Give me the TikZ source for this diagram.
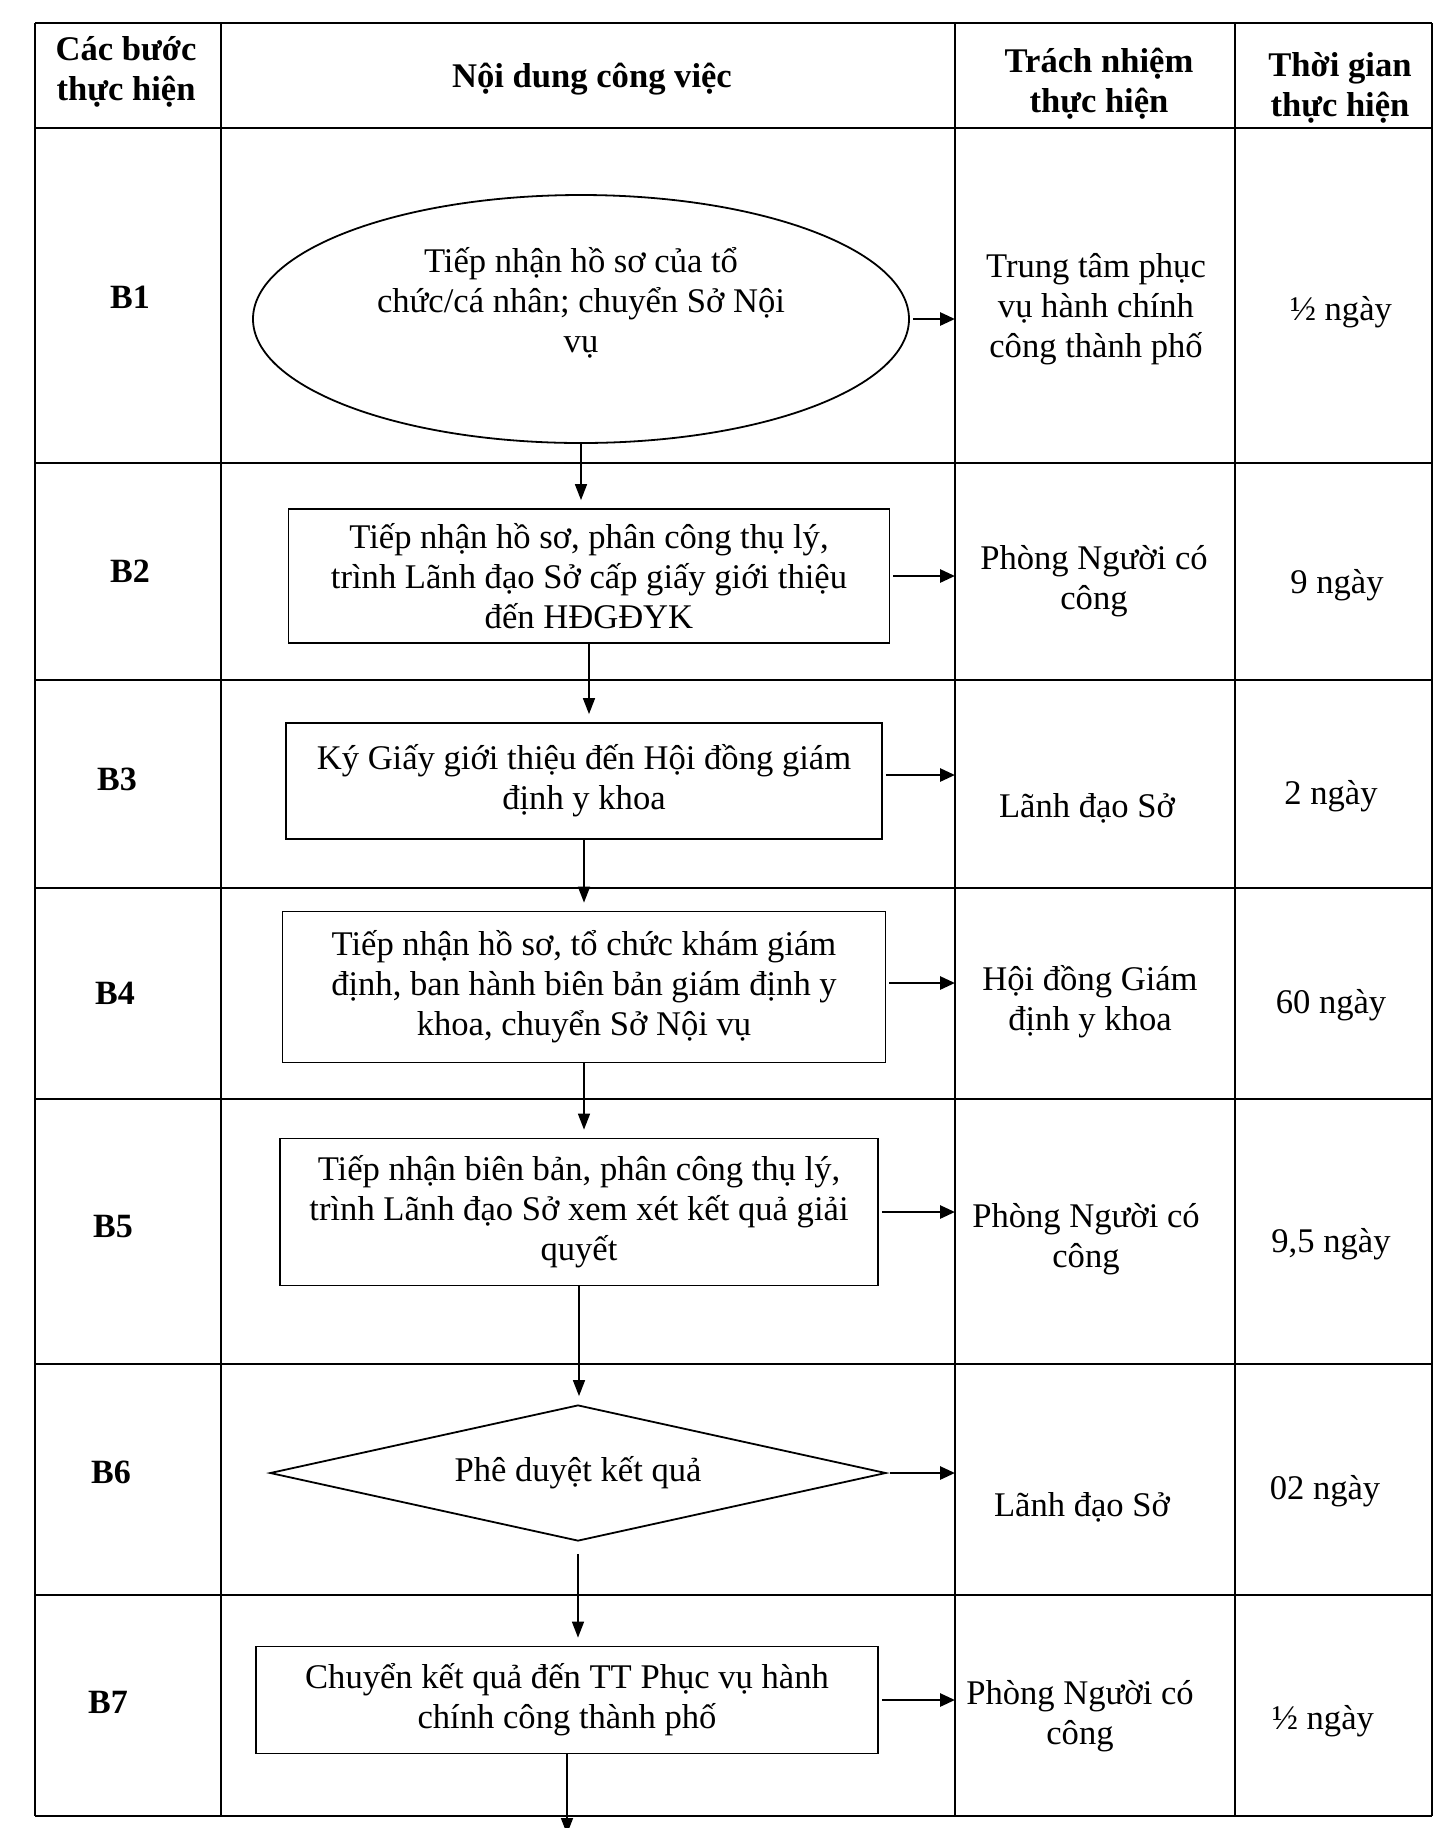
\documentclass[tikz,border=0pt]{standalone}
\usepackage{fontspec}
\setmainfont{Liberation Serif}
\usetikzlibrary{shapes.geometric,arrows.meta}
\begin{document}
\begin{tikzpicture}[x=0.5pt,y=-0.5pt,
  gridline/.style={line width=1.3pt},
  proc/.style={draw, line width=0.9pt, inner sep=0pt, align=center, font=\fontsize{17.3}{20}\selectfont},
  txt/.style={align=center, font=\fontsize{17.3}{20}\selectfont},
  hdr/.style={align=center, font=\bfseries\fontsize{17.3}{20}\selectfont},
  stepl/.style={font=\bfseries\fontsize{17}{19}\selectfont},
  downarr/.style={-{Triangle[length=8pt,width=6pt]}, line width=0.8pt, shorten >=4pt},
  sidearr/.style={-{Triangle[length=7.5pt,width=6.5pt]}, line width=1.4pt, shorten <=1.5pt}
]
\useasboundingbox (0,0) rectangle (1442,1828);
\fill[white] (0,0) rectangle (1442,1828);

% table grid
\foreach \yy in {23,128,463,680,888,1099,1364,1595,1816}
  \draw[gridline] (35,\yy) -- (1432,\yy);
\foreach \xx in {35,221,955,1235,1432}
  \draw[gridline] (\xx,23) -- (\xx,1816);
\coordinate (colx) at (955,0);

% header
\node[hdr] (h1) at (126,72) {Các bước\\thực hiện};
\node[hdr] (h2) at (592,79) {Nội dung công việc};
\node[hdr] (h3) at (1099,84) {Trách nhiệm\\thực hiện};
\node[hdr] (h4) at (1340,88) {Thời gian\\thực hiện};

% step labels
\node[stepl] (s1) at (130,297) {B1};
\node[stepl] (s2) at (130,571) {B2};
\node[stepl] (s3) at (117,779) {B3};
\node[stepl] (s4) at (115,993) {B4};
\node[stepl] (s5) at (113,1227) {B5};
\node[stepl] (s6) at (111,1472) {B6};
\node[stepl] (s7) at (108,1702) {B7};

% flow shapes
\node[proc, ellipse, minimum width=328pt, minimum height=124pt] (b1) at (581,319) {};
\node[txt] (b1t) at (581,303)
  {Tiếp nhận hồ sơ của tổ\\chức/cá nhân; chuyển Sở Nội\\vụ};
\node[proc, rectangle, minimum width=300.5pt, minimum height=67pt] (b2) at (589,576)
  {Tiếp nhận hồ sơ, phân công thụ lý,\\trình Lãnh đạo Sở cấp giấy giới thiệu\\đến HĐGĐYK};
\node[proc, rectangle, minimum width=298pt, minimum height=58pt] (b3) at (584,781)
  {Ký Giấy giới thiệu đến Hội đồng giám\\định y khoa};
\node[proc, rectangle, minimum width=301.5pt, minimum height=75.5pt] (b4) at (584,987)
  {Tiếp nhận hồ sơ, tổ chức khám giám\\định, ban hành biên bản giám định y\\khoa, chuyển Sở Nội vụ};
\node[proc, rectangle, minimum width=299pt, minimum height=73.5pt] (b5) at (579,1212)
  {Tiếp nhận biên bản, phân công thụ lý,\\trình Lãnh đạo Sở xem xét kết quả giải\\quyết};
\node[proc, diamond, shape aspect=4.5, minimum width=308pt, minimum height=68pt] (b6) at (578,1473)
  {Phê duyệt kết quả};
\node[proc, rectangle, minimum width=311pt, minimum height=53.5pt] (b7) at (567,1700)
  {Chuyển kết quả đến TT Phục vụ hành\\chính công thành phố};
\coordinate (bend) at (563,1834);

% responsibility
\node[txt] (r1) at (1096,309) {Trung tâm phục\\vụ hành chính\\công thành phố};
\node[txt] (r2) at (1094,581) {Phòng Người có\\công};
\node[txt] (r3) at (1087,808) {Lãnh đạo Sở};
\node[txt] (r4) at (1090,1002) {Hội đồng Giám\\định y khoa};
\node[txt] (r5) at (1086,1239) {Phòng Người có\\công};
\node[txt] (r6) at (1082,1507) {Lãnh đạo Sở};
\node[txt] (r7) at (1080,1716) {Phòng Người có\\công};

% time
\node[txt] (t1) at (1341,312) {½ ngày};
\node[txt] (t2) at (1337,585) {9 ngày};
\node[txt] (t3) at (1331,796) {2 ngày};
\node[txt] (t4) at (1331,1005) {60 ngày};
\node[txt] (t5) at (1331,1244) {9,5 ngày};
\node[txt] (t6) at (1325,1491) {02 ngày};
\node[txt] (t7) at (1323,1721) {½ ngày};

% vertical flow arrows
\draw[downarr] (b1.south) -- (b1.south |- b2.north);
\draw[downarr] (b2.south) -- (b2.south |- b3.north);
\draw[downarr] (b3.south) -- (b3.south |- b4.north);
\draw[downarr] (b4.south) -- (b4.south |- b5.north);
\draw[downarr] (b5.south) -- (b5.south |- b6.north);
\draw[downarr, shorten <=6pt] (b6.south) -- (b6.south |- b7.north);
\draw[downarr, shorten >=0pt] (b7.south) -- (b7.south |- bend);

% side arrows to responsibility column
\draw[sidearr] (b1.east) -- (b1.east -| colx);
\draw[sidearr] (b2.east) -- (b2.east -| colx);
\draw[sidearr] ([yshift=3pt]b3.east) -- ([yshift=3pt]b3.east -| colx);
\draw[sidearr] ([yshift=2pt]b4.east) -- ([yshift=2pt]b4.east -| colx);
\draw[sidearr] (b5.east) -- (b5.east -| colx);
\draw[sidearr] (b6.east) -- (b6.east -| colx);
\draw[sidearr] (b7.east) -- (b7.east -| colx);
\end{tikzpicture}
\end{document}
